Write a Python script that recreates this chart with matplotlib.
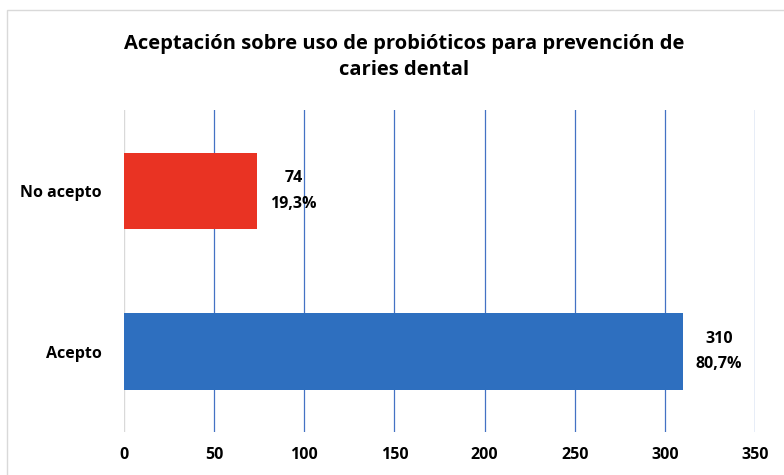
import matplotlib.pyplot as plt
from matplotlib.patches import Rectangle

categories = ['Acepto', 'No acepto']
counts = [310, 74]
percents = ['80,7%', '19,3%']
colors = ['#2E6FBF', '#E93323']
ticks = [0, 50, 100, 150, 200, 250, 300, 350]

plt.rcParams['font.family'] = ['Open Sans', 'DejaVu Sans']

fig = plt.figure(figsize=(7.84, 4.75), dpi=100)
ax = fig.add_axes([0.158, 0.0905, 0.805, 0.677])

# frame around the chart area
fig.patches.append(Rectangle((0.009, -0.01), 1.1, 0.99, transform=fig.transFigure,
                             fill=False, edgecolor='#D9D9D9', linewidth=1))

ax.barh(range(len(categories)), counts, height=0.475, color=colors, zorder=3)

for i, (c, p) in enumerate(zip(counts, percents)):
    ax.text(c + 20, i, f'{c}\n{p}', ha='center', va='center',
            fontsize=11.5, fontweight='bold', linespacing=1.8, zorder=4)

ax.set_xlim(0, 350)
ax.set_ylim(-0.5, 1.5)
ax.set_xticks(ticks)
ax.set_yticks(range(len(categories)))
ax.set_yticklabels(categories, fontsize=11.5, fontweight='bold')
ax.tick_params(axis='x', labelsize=11.5, length=0, pad=11)
ax.tick_params(axis='y', length=0, pad=16)
for lbl in ax.get_xticklabels():
    lbl.set_fontweight('bold')

for t in ticks[1:]:
    ax.axvline(t, color='#4472C4', linewidth=0.9, zorder=1)
ax.axvline(0, color='#D9D9D9', linewidth=1, zorder=2)

for s in ax.spines.values():
    s.set_visible(False)

fig.text(0.515, 0.88, 'Aceptación sobre uso de probióticos para prevención de\ncaries dental',
         ha='center', va='center', fontsize=14.5, fontweight='bold', linespacing=1.45)

fig.savefig('out.png', dpi=100)
